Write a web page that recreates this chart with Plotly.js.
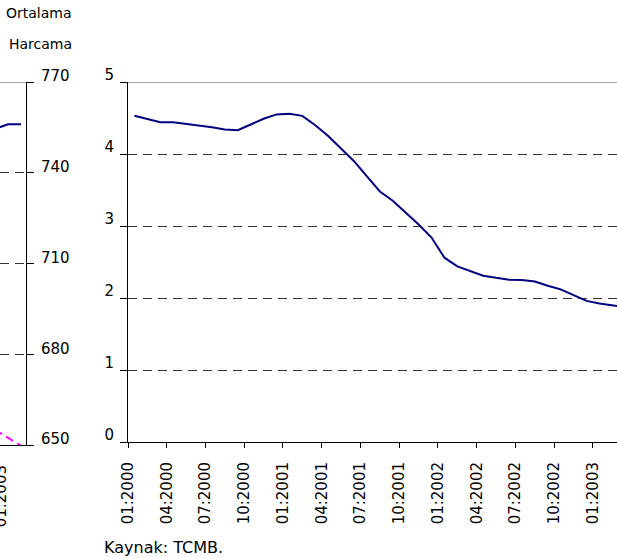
<!DOCTYPE html>
<html>
<head>
<meta charset="utf-8">
<script src="https://cdn.plot.ly/plotly-3.0.1.min.js"></script>
<style>html,body{margin:0;padding:0;background:#fff;}#chart{width:617px;height:558px;}</style>
</head>
<body>
<div id="chart"></div>
<script>
// Monthly categories of the right-hand chart (01:2000 ... 03:2003)
const months = ['01:2000','02:2000','03:2000','04:2000','05:2000','06:2000','07:2000','08:2000','09:2000','10:2000','11:2000','12:2000',
  '01:2001','02:2001','03:2001','04:2001','05:2001','06:2001','07:2001','08:2001','09:2001','10:2001','11:2001','12:2001',
  '01:2002','02:2002','03:2002','04:2002','05:2002','06:2002','07:2002','08:2002','09:2002','10:2002','11:2002','12:2002',
  '01:2003','02:2003','03:2003'];
const rightSeries = [4.53, 4.48, 4.44, 4.44, 4.42, 4.40, 4.37, 4.34, 4.33, 4.41, 4.49, 4.55,
  4.56, 4.53, 4.40, 4.25, 4.07, 3.90, 3.69, 3.48, 3.35, 3.19, 3.02, 2.84,
  2.56, 2.44, 2.37, 2.31, 2.28, 2.255, 2.25, 2.23, 2.17, 2.12, 2.04, 1.96,
  1.925, 1.90, 1.87];
const tickLabels = ['01:2000','04:2000','07:2000','10:2000','01:2001','04:2001','07:2001','10:2001','01:2002','04:2002','07:2002','10:2002','01:2003'];

// Visible tail of the left-hand chart (Ortalama Harcama)
const leftMonths = ['12:2002','01:2003','02:2003'];
const leftBlue = [754.5, 756, 756];
const leftMagenta = [655, 652.5, 649.8];
const leftTickLabels = ['01:2003'];

const idx = m => months.indexOf(m);
const xRight = months.map((m, i) => i);
const xLeft = leftMonths.map(idx);
const tickValsRight = tickLabels.map(t => idx(t) - 0.5);
const tickValsLeft = leftTickLabels.map(t => idx(t) - 0.5);

const font = 'DejaVu Sans, Verdana, sans-serif';
const gridDash = '9px,6px';

const traces = [
  {x: xRight, y: rightSeries, type: 'scatter', mode: 'lines', xaxis: 'x', yaxis: 'y',
   line: {color: '#000080', width: 2}, hoverinfo: 'skip'},
  {x: xLeft, y: leftBlue, type: 'scatter', mode: 'lines', xaxis: 'x2', yaxis: 'y2',
   line: {color: '#000080', width: 2}, hoverinfo: 'skip'},
  {x: xLeft, y: leftMagenta, type: 'scatter', mode: 'lines', xaxis: 'x2', yaxis: 'y2',
   line: {color: '#FF00FF', width: 2, dash: '8px,5px'}, hoverinfo: 'skip'}
];

const layout = {
  width: 617, height: 558,
  margin: {l: 0, r: 0, t: 82, b: 113},
  paper_bgcolor: '#fff', plot_bgcolor: '#fff',
  showlegend: false,
  font: {family: font, size: 15, color: '#000'},
  xaxis: {
    domain: [128/617, 1], range: [-0.5, 37.36], anchor: 'y',
    showgrid: false, zeroline: false, showline: true, linecolor: '#000', linewidth: 1,
    ticks: 'outside', ticklen: 5, tickcolor: '#000', tickwidth: 1,
    tickmode: 'array', tickvals: tickValsRight, ticktext: tickLabels,
    tickangle: -90, ticklabelstandoff: 8, tickfont: {family: font, size: 15, color: '#000'}
  },
  yaxis: {
    domain: [3/363, 1], range: [0, 5], anchor: 'x',
    showgrid: true, gridcolor: '#333', griddash: gridDash, gridwidth: 1,
    zeroline: false, showline: true, linecolor: '#000', linewidth: 1,
    ticks: 'outside', ticklen: 7, tickcolor: '#000',
    tickmode: 'array', tickvals: [0,1,2,3,4,5],
    ticklabelstandoff: 3, ticklabelshift: -7,
    tickfont: {family: font, size: 15, color: '#000'}
  },
  xaxis2: {
    domain: [0, 26/617], range: [35.38, 37.39], anchor: 'y2',
    showgrid: false, zeroline: false, showline: true, linecolor: '#000', linewidth: 1,
    ticks: '', tickmode: 'array', tickvals: tickValsLeft, ticktext: leftTickLabels,
    tickangle: -90, ticklabelstandoff: 13, ticklabeloverflow: 'allow',
    tickfont: {family: font, size: 15, color: '#000'}
  },
  yaxis2: {
    domain: [0, 1], range: [650, 770], anchor: 'x2', side: 'right',
    showgrid: true, gridcolor: '#333', griddash: gridDash, gridwidth: 1,
    zeroline: false, showline: true, linecolor: '#000', linewidth: 1,
    ticks: 'outside', ticklen: 7, tickcolor: '#000',
    tickmode: 'array', tickvals: [650, 680, 710, 740, 770],
    ticklabelstandoff: 4, ticklabelshift: -6,
    tickfont: {family: font, size: 15, color: '#000'}
  },
  shapes: [
    {type: 'line', xref: 'x domain', yref: 'y', x0: 0, x1: 1, y0: 5, y1: 5, line: {color: '#555', width: 1}},
    {type: 'line', xref: 'x2 domain', yref: 'y2', x0: 0, x1: 1, y0: 770, y1: 770, line: {color: '#555', width: 1}}
  ],
  annotations: [
    {text: 'Ortalama', xref: 'paper', yref: 'paper', x: 74/617, y: (445-13)/363, xanchor: 'right', yanchor: 'middle',
     showarrow: false, font: {family: font, size: 14, color: '#000'}},
    {text: 'Harcama', xref: 'paper', yref: 'paper', x: 74/617, y: (445-44)/363, xanchor: 'right', yanchor: 'middle',
     showarrow: false, font: {family: font, size: 14, color: '#000'}},
    {text: 'Kaynak: TCMB.', xref: 'paper', yref: 'paper', x: 102/617, y: (445-547)/363, xanchor: 'left', yanchor: 'middle',
     showarrow: false, font: {family: font, size: 16, color: '#000'}}
  ]
};

Plotly.newPlot('chart', traces, layout, {staticPlot: true, displayModeBar: false});
</script>
</body>
</html>
